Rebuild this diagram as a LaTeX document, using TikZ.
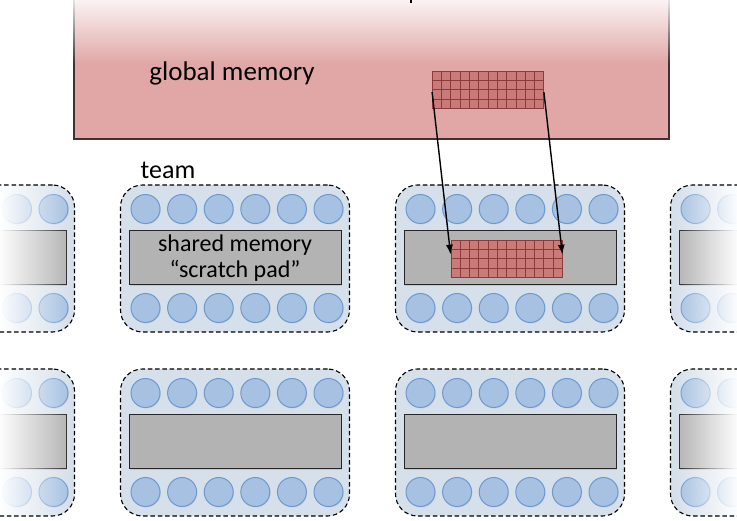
\documentclass[tikz,border=0pt]{standalone}
\usepackage{fontspec}
\setmainfont{Carlito}
\usetikzlibrary{arrows.meta,calc,fadings,shadows}
\definecolor{gmpink}{RGB}{224,167,166}
\definecolor{gmline}{RGB}{60,50,50}
\definecolor{gridfill}{RGB}{201,123,122}
\definecolor{gridline}{RGB}{140,58,58}
\definecolor{teambg}{RGB}{214,224,235}
\definecolor{corefill}{RGB}{166,193,225}
\definecolor{coreline}{RGB}{108,154,208}
\definecolor{shmem}{RGB}{179,179,179}
\tikzfading[name=fadeLeftOpaque, left color=transparent!0, right color=transparent!100]
\tikzfading[name=fadeRightOpaque, left color=transparent!100, right color=transparent!0]
\tikzfading[name=fadeTopOpaque, top color=transparent!0, bottom color=transparent!100]
\tikzset{
  gmbox/.style={draw=gmline, line width=1.2pt, fill=gmpink, minimum width=595pt, minimum height=159pt, inner sep=0pt,
    drop shadow={shadow xshift=1.2pt, shadow yshift=-1.5pt, opacity=0.35}},
  gridbox/.style={draw=gridline, line width=0.8pt, fill=gridfill, minimum width=111pt, minimum height=37pt, inner sep=0pt},
  gridln/.style={draw=gridline, line width=0.6pt},
  teamfill/.style={fill=teambg, rounded corners=22pt, minimum width=229pt, minimum height=147pt, inner sep=0pt},
  teamedge/.style={draw=black, dash pattern=on 4.5pt off 2.8pt, line width=1.1pt, rounded corners=22pt, minimum width=229pt, minimum height=147pt, inner sep=0pt},
  core/.style={circle, minimum size=29pt, inner sep=0pt, fill=corefill, draw=coreline, line width=1pt,
    drop shadow={shadow xshift=0.8pt, shadow yshift=-1pt, opacity=0.18}},
  smem/.style={fill=shmem, draw=black!85, line width=1pt, minimum width=212pt, minimum height=54pt, inner sep=0pt,
    drop shadow={shadow xshift=1pt, shadow yshift=-1pt, opacity=0.25}, align=center, font=\fontsize{24}{26}\selectfont},
  lbl/.style={font=\fontsize{27}{30}\selectfont, inner sep=0pt},
  arr/.style={-{Latex[length=10pt,width=7pt]}, line width=1.4pt, black}
}
\begin{document}
\begin{tikzpicture}[x=1pt,y=-1pt]
\useasboundingbox (0,0) rectangle (737,521);
\begin{scope}
\clip (0,0) rectangle (737,521);
% global memory
\node[gmbox] (gmem) at (371.5,59.5) {};
\node[lbl] (gmlabel) at (232,73) {global memory};
\node[gridbox] (g1) at (488,89.5) {};
\foreach \i in {1,...,11}
  \draw[gridln] ($(g1.north west)!\i/12!(g1.north east)$) -- ($(g1.south west)!\i/12!(g1.south east)$);
\foreach \j in {1,2,3}
  \draw[gridln] ($(g1.north west)!\j/4!(g1.south west)$) -- ($(g1.north east)!\j/4!(g1.south east)$);
\fill[white, path fading=fadeTopOpaque] (60,-10) rectangle (690,64);
\coordinate (tickA) at (411,-1);
\coordinate (tickB) at (411,3.5);
\draw[line width=2pt] (tickA) -- (tickB);
% teams
\foreach \c/\cx in {0/-275,1/0,2/275,3/550}{
  \foreach \r/\ry in {0/0,1/184}{
    \node[teamfill] (tf\r\c) at ($(235,258.5)+(\cx,\ry)$) {};
    \foreach \k in {0,...,5}{
      \node[core] (ct\r\c\k) at ($(145.5,209)+(\cx,\ry)+(36.6*\k,0)$) {};
      \node[core] (cb\r\c\k) at ($(145.5,308)+(\cx,\ry)+(36.6*\k,0)$) {};
    }
  }
}
\node[smem] (sm01) at (235,258) {shared memory\\“scratch pad”};
\node[smem] (sm02) at (510,258) {};
\node[smem] (sm00) at (-40,258) {};
\node[smem] (sm03) at (785,258) {};
\node[smem] (sm11) at (235,442) {};
\node[smem] (sm12) at (510,442) {};
\node[smem] (sm10) at (-40,442) {};
\node[smem] (sm13) at (785,442) {};
% shared grid
\node[gridbox] (g2) at (506.5,258.5) {};
\foreach \i in {1,...,11}
  \draw[gridln] ($(g2.north west)!\i/12!(g2.north east)$) -- ($(g2.south west)!\i/12!(g2.south east)$);
\foreach \j in {1,2,3}
  \draw[gridln] ($(g2.north west)!\j/4!(g2.south west)$) -- ($(g2.north east)!\j/4!(g2.south east)$);
% side fades
\fill[white, path fading=fadeLeftOpaque] (-2,175) rectangle (70,530);
\fill[white, path fading=fadeRightOpaque] (676,175) rectangle (739,530);
% team borders
\foreach \c/\cx in {0/-275,1/0,2/275,3/550}{
  \foreach \r/\ry in {0/0,1/184}{
    \node[teamedge] (te\r\c) at ($(235,258.5)+(\cx,\ry)$) {};
  }
}
\node[font=\fontsize{26}{28}\selectfont, inner sep=0pt] (teamlbl) at (168,170) {team};
% arrows
\draw[arr] ($(g1.north west)!0.57!(g1.south west)$) -- ($(g2.north west)!0.4!(g2.south west)$);
\draw[arr] ($(g1.north east)!0.57!(g1.south east)$) -- ($(g2.north east)!0.4!(g2.south east)$);
\end{scope}
\end{tikzpicture}
\end{document}
